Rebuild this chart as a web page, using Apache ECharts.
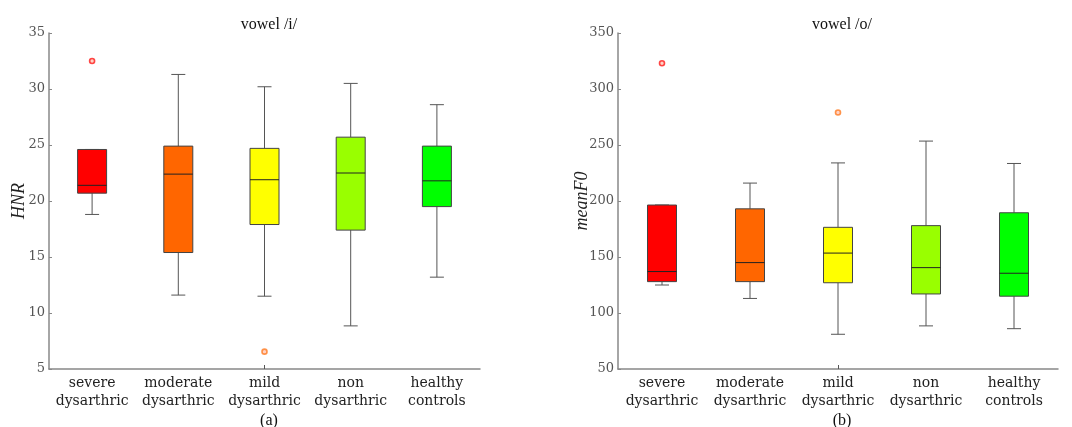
<!DOCTYPE html>
<html>
<head>
<meta charset="utf-8">
<script src="https://cdn.jsdelivr.net/npm/echarts@6/dist/echarts.min.js"></script>
<style>html,body{margin:0;padding:0;background:#fff}#c{width:1072px;height:427px}</style>
</head>
<body>
<div id="c"></div>
<script>
var categories = ['severe\ndysarthric', 'moderate\ndysarthric', 'mild\ndysarthric', 'non\ndysarthric', 'healthy\ncontrols'];
var colors = ['#ff0000', '#ff6600', '#ffff00', '#99ff00', '#00ff00'];
// [min, Q1, median, Q3, max]
var hnrBoxes = [
  [18.8, 20.7, 21.4, 24.6, 24.6],
  [11.6, 15.4, 22.4, 24.9, 31.3],
  [11.5, 17.9, 21.9, 24.7, 30.2],
  [8.85, 17.4, 22.5, 25.7, 30.5],
  [13.2, 19.5, 21.8, 24.9, 28.6]
];
var hnrOutliers = [[0, 32.5], [2, 6.55]];
var f0Boxes = [
  [125, 128, 137, 196.4, 196.4],
  [113, 128, 145, 193, 216],
  [81, 127, 153.5, 176.5, 234],
  [88.5, 117, 140.5, 178, 253.5],
  [86, 115, 135.5, 189.5, 233.5]
];
var f0Outliers = [[0, 323], [2, 279]];
var outlierColors = ['#ff1a1a', '#ff6600', '#ff7a20'];

function toData(boxes) {
  return boxes.map(function (b, i) { return [i].concat(b); });
}
function renderBox(params, api) {
  var i = api.value(0);
  var pMin = api.coord([i, api.value(1)]);
  var pQ1 = api.coord([i, api.value(2)]);
  var pMed = api.coord([i, api.value(3)]);
  var pQ3 = api.coord([i, api.value(4)]);
  var pMax = api.coord([i, api.value(5)]);
  var x = pMin[0];
  var bw = 29, cw = 14;
  var ls = {stroke: '#555', lineWidth: 1};
  var ch = [];
  ch.push({type: 'line', shape: {x1: x, y1: pQ3[1], x2: x, y2: pMax[1]}, style: ls});
  ch.push({type: 'line', shape: {x1: x - cw / 2, y1: pMax[1], x2: x + cw / 2, y2: pMax[1]}, style: ls});
  ch.push({type: 'line', shape: {x1: x, y1: pQ1[1], x2: x, y2: pMin[1]}, style: ls});
  ch.push({type: 'line', shape: {x1: x - cw / 2, y1: pMin[1], x2: x + cw / 2, y2: pMin[1]}, style: ls});
  ch.push({type: 'rect', shape: {x: x - bw / 2, y: pQ3[1], width: bw, height: pQ1[1] - pQ3[1]},
    style: {fill: colors[i], stroke: '#444', lineWidth: 1}});
  ch.push({type: 'line', shape: {x1: x - bw / 2, y1: pMed[1], x2: x + bw / 2, y2: pMed[1]}, style: {stroke: '#222', lineWidth: 1}});
  return {type: 'group', children: ch};
}

var serif = 'DejaVu Serif';
function xAxis(gi) {
  return {
    type: 'category', gridIndex: gi, data: categories,
    axisLine: {lineStyle: {color: '#888', width: 1.5}},
    axisTick: {show: true, inside: true, length: 4, alignWithLabel: true,
      interval: function (idx) { return idx === 2; }, lineStyle: {color: '#555'}},
    axisLabel: {fontFamily: serif, fontSize: 14, color: '#222', lineHeight: 18, margin: 5, interval: 0},
    splitLine: {show: false}
  };
}
function yAxis(gi, name, min, max, interval, gap) {
  return {
    type: 'value', gridIndex: gi, min: min, max: max, interval: interval,
    name: name, nameLocation: 'middle', nameGap: gap, nameMoveOverlap: false,
    nameTextStyle: {fontFamily: 'Liberation Serif', fontStyle: 'italic', fontSize: 18, color: '#222'},
    axisLine: {show: true, lineStyle: {color: '#888', width: 1.5}},
    axisTick: {show: true, inside: true, length: 3, lineStyle: {color: '#888'}},
    axisLabel: {fontFamily: serif, fontSize: 13, color: '#555', margin: 4},
    splitLine: {show: false}
  };
}

var tStyle = {fontFamily: 'Liberation Serif', fontSize: 16, fontWeight: 'normal', color: '#111'};
var chart = echarts.init(document.getElementById('c'));
chart.setOption({
  animation: false,
  title: [
    {text: 'vowel /i/', left: 264, top: 12, textAlign: 'center', textStyle: tStyle},
    {text: 'vowel /o/', left: 837, top: 12, textAlign: 'center', textStyle: tStyle},
    {text: '(a)', left: 264, top: 408, textAlign: 'center', textStyle: tStyle},
    {text: '(b)', left: 837, top: 408, textAlign: 'center', textStyle: tStyle}
  ],
  grid: [
    {left: 49, top: 33, width: 431, height: 336},
    {left: 618, top: 33, width: 440, height: 336}
  ],
  xAxis: [xAxis(0), xAxis(1)],
  yAxis: [yAxis(0, 'HNR', 5, 35, 5, 21), yAxis(1, 'meanF0', 50, 350, 50, 27)],
  series: [
    {type: 'custom', xAxisIndex: 0, yAxisIndex: 0, renderItem: renderBox, data: toData(hnrBoxes),
      encode: {x: 0, y: [1, 2, 3, 4, 5]}},
    {type: 'custom', xAxisIndex: 1, yAxisIndex: 1, renderItem: renderBox, data: toData(f0Boxes),
      encode: {x: 0, y: [1, 2, 3, 4, 5]}},
    {type: 'scatter', xAxisIndex: 0, yAxisIndex: 0, symbol: 'circle', symbolSize: 5,
      data: hnrOutliers.map(function (d) { return {value: d, itemStyle: {color: '#ffc8b8', borderColor: outlierColors[d[0] === 0 ? 0 : 2], borderWidth: 1.6}}; })},
    {type: 'scatter', xAxisIndex: 1, yAxisIndex: 1, symbol: 'circle', symbolSize: 5,
      data: f0Outliers.map(function (d) { return {value: d, itemStyle: {color: '#ffc8b8', borderColor: outlierColors[d[0] === 0 ? 0 : 2], borderWidth: 1.6}}; })}
  ]
});
</script>
</body>
</html>
